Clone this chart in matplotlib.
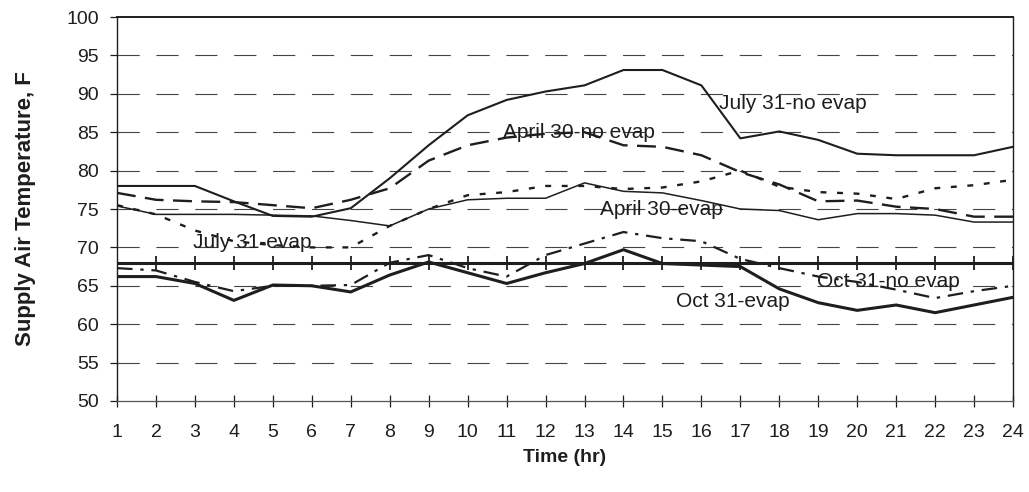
import matplotlib.pyplot as plt

plt.rcParams['font.family'] = ['Liberation Sans', 'DejaVu Sans']

hours = list(range(1, 25))

july_no_evap = [78, 78, 78, 76, 74.1, 74, 75.1, 79, 83.3, 87.2, 89.2, 90.3,
                91.1, 93.1, 93.1, 91.1, 84.2, 85.1, 84, 82.2, 82, 82, 82, 83.1]
april_no_evap = [77.1, 76.2, 76, 75.9, 75.5, 75.1, 76.2, 77.7, 81.3, 83.3, 84.3, 84.8,
                 85, 83.3, 83.1, 82, 79.8, 78.2, 76, 76.1, 75.3, 75, 74, 74]
july_evap = [75.5, 74.3, 72.2, 70.8, 70.3, 70, 70, 72.8, 75, 76.8, 77.2, 78,
             78, 77.6, 77.8, 78.6, 80, 77.9, 77.2, 77, 76.3, 77.7, 78.1, 78.8]
april_evap = [75.4, 74.3, 74.3, 74.3, 74.2, 74.1, 73.5, 72.8, 75, 76.2, 76.4, 76.4,
              78.4, 77.3, 77.1, 76.1, 75, 74.8, 73.6, 74.4, 74.4, 74.2, 73.3, 73.3]
oct_no_evap = [67.3, 67, 65.5, 64.3, 65, 65, 65.1, 68, 69, 67.3, 66.2, 69,
               70.5, 72, 71.2, 70.8, 68.5, 67.3, 66.2, 65.5, 64.5, 63.4, 64.3, 65]
oct_evap = [66.2, 66.2, 65.3, 63.1, 65.1, 65, 64.2, 66.4, 68.1, 66.7, 65.3, 66.7,
            67.9, 69.7, 67.9, 67.7, 67.5, 64.6, 62.8, 61.8, 62.5, 61.5, 62.5, 63.5]

# series labels: (text, hour, temperature)
labels = [("July 31-no evap", 16.45, 88.8),
          ("April 30-no evap", 10.9, 84.9),
          ("April 30-evap", 13.4, 75.0),
          ("July 31-evap", 2.95, 70.7),
          ("Oct 31-no evap", 18.97, 65.5),
          ("Oct 31-evap", 15.35, 63.0)]

axis_cross = 68
ink = '#1e1e1e'

fig = plt.figure(figsize=(10.29, 4.92), dpi=100)
ax = fig.add_axes([0.1137, 0.185, 0.8708, 0.7804])

for y in range(55, 100, 5):
    ax.axhline(y, color='#444444', lw=0.8, dashes=(20, 15), zorder=1)

ax.plot(hours, july_no_evap, color=ink, lw=1.5, zorder=3)
ax.plot(hours, april_no_evap, color=ink, lw=1.7, dashes=(8, 4), zorder=3)
ax.plot(hours, july_evap, color=ink, lw=1.7, dashes=(2.5, 4.5), zorder=3)
ax.plot(hours, april_evap, color=ink, lw=1.1, zorder=3)
ax.plot(hours, oct_no_evap, color=ink, lw=1.6, dashes=(7, 3.5, 1.5, 3.5), zorder=3)
ax.plot(hours, oct_evap, color=ink, lw=2.2, zorder=3)

# category axis crossing the value axis
ax.axhline(axis_cross, color=ink, lw=2.2, zorder=4)
ax.plot(hours, [axis_cross] * len(hours), ls='none', marker='|', ms=10,
        mew=1.3, color=ink, zorder=4)

for text, h, t in labels:
    ax.text(h, t, text, fontsize=15, color=ink, va='center', ha='left', zorder=5)

ax.set_xlim(1, 24)
ax.set_ylim(50, 100)
ax.set_xticks(hours)
ax.set_yticks(range(50, 101, 5))
ax.tick_params(axis='both', labelsize=14, colors=ink, length=5, width=0.9)
ax.tick_params(axis='x', direction='inout', length=9, pad=12)
ax.tick_params(axis='y', direction='out', pad=8)

for side in ['top', 'right', 'left']:
    ax.spines[side].set_color(ink)
    ax.spines[side].set_linewidth(1.0)
ax.spines['top'].set_linewidth(1.4)
ax.spines['bottom'].set_color('#555555')
ax.spines['bottom'].set_linewidth(0.9)

ax.set_xlabel("Time (hr)", fontsize=14, fontweight='bold', color=ink, labelpad=6)
ax.set_ylabel("Supply Air Temperature, F", fontsize=16, fontweight='bold', color=ink,
              labelpad=22)

fig.savefig("out.png", dpi=100)
